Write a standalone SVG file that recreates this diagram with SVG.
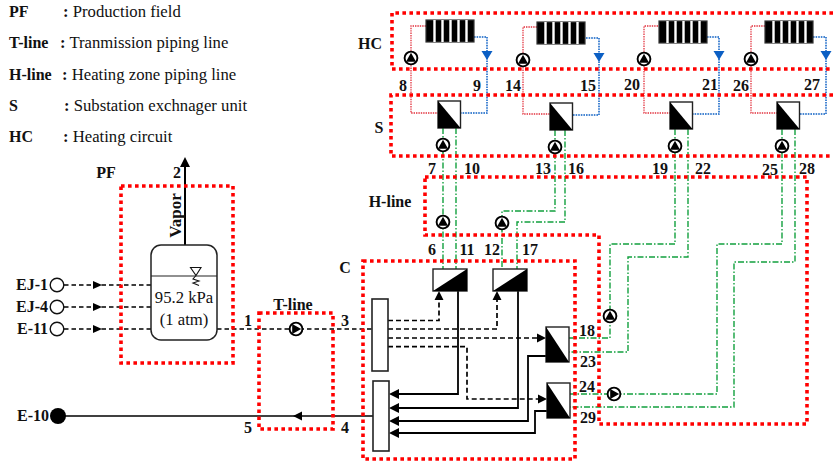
<svg xmlns="http://www.w3.org/2000/svg" width="833" height="462" viewBox="0 0 833 462">
<style>
text{font-family:"Liberation Serif","Times New Roman",serif;fill:#111}
.b{font-weight:700;font-size:16px}
.m{text-anchor:middle}
.r{font-size:16.7px}
.zone{fill:none;stroke:#f00;stroke-width:3.6;stroke-dasharray:3.6 3.4}
.hot{fill:none;stroke:#e2303c;stroke-width:1.3;stroke-dasharray:1.4 1}
.blue{fill:none;stroke:#0b5fc4;stroke-width:1.5;stroke-dasharray:1.6 1}
.green{fill:none;stroke:#12a03e;stroke-width:1.4;stroke-dasharray:6 2 1.5 2}
.dash{fill:none;stroke:#000;stroke-width:1.4;stroke-dasharray:4.5 3}
.dash2{fill:none;stroke:#000;stroke-width:1.7;stroke-dasharray:5 3}
.solid{fill:none;stroke:#000;stroke-width:1.8}
.box{fill:#fff;stroke:#222;stroke-width:1.6}
</style>
<defs>
<g id="pu"><circle r="6.400" fill="#fff" stroke="#000" stroke-width="1.900"/><path d="M0-5.200L5 3.800H-5Z" fill="#000"/></g>
<g id="pr"><circle r="6.400" fill="#fff" stroke="#000" stroke-width="1.900"/><path d="M-3.800-5L5.200 0L-3.800 5Z" fill="#000"/></g>
<g id="rad"><rect width="48" height="22" fill="#000" stroke="#333" stroke-width="1.2"/><path d="M8.500 0V22M16.500 0V22M24.500 0V22M32.500 0V22M40.500 0V22" stroke="#fff" stroke-width="2.400"/></g>
<g id="hxs"><rect width="22.500" height="27" fill="#fff" stroke="#222" stroke-width="1.400"/><path d="M0 0L22.500 27H0Z" fill="#000"/></g>
<g id="hxc"><rect width="34" height="22" fill="#fff" stroke="#222" stroke-width="1.400"/><path d="M0 22L34 0V22Z" fill="#000"/></g>
<g id="hxv"><rect width="23" height="35" fill="#fff" stroke="#222" stroke-width="1.400"/><path d="M0 0L23 35H0Z" fill="#000"/></g>
<path id="ad" d="M-5.500-9H5.500L0 0Z" fill="#0b5fc4"/>
</defs>

<g id="legend">
<text class="b" x="9" y="17">PF</text><text class="r" x="63" y="17"><tspan font-weight="700">:</tspan> Production field</text>
<text class="b" x="9" y="48">T-line</text><text class="r" x="60" y="48"><tspan font-weight="700">:</tspan> Tranmission piping line</text>
<text class="b" x="9" y="80">H-line</text><text class="r" x="62" y="80"><tspan font-weight="700">:</tspan> Heating zone piping line</text>
<text class="b" x="9" y="111">S</text><text class="r" x="64" y="111"><tspan font-weight="700">:</tspan> Substation exchnager unit</text>
<text class="b" x="9" y="142">HC</text><text class="r" x="63" y="142"><tspan font-weight="700">:</tspan> Heating circuit</text>
</g>

<g id="connectors">
<path class="hot" d="M411 58V26H426M411 58V113H438M523 60V27H537M523 60V114H550M644 59V26H658M644 59V113H670M751 59V26H765M751 59V113H777"/>
<path class="blue" d="M474 37H487V113H460M586 38H599V115H572M707 37H719V114H693M813 37H826V114H800"/>
<path class="green" d="M443 128V269M456 128V269M555 130V211H502V269M565 130V222H517V269M675 129V244H610V338H568M688 129V257H628V352H569M782 129V244H717V394H570M795 129V262H734V407H570"/>
<path class="dash" d="M217 329H372M64 285H151M64 307H151M64 329H151"/>
<path class="dash2" d="M388 320.500H439V297M388 329H497V297M388 338H540M388 346.700H467V399H541"/>
<path class="solid" d="M458 291V394H396M518 291V408H396M546 356H528V421H396M547 411H535V433H396"/>
<path fill="none" stroke="#000" stroke-width="1.600" d="M373 416H58"/>
<path fill="none" stroke="#000" stroke-width="2" d="M185 245V165"/>
<path d="M185 157L190 167H180ZM93 281L102 285L93 289ZM93 303L102 307L93 311ZM93 325L102 329L93 333ZM293 416L302 411.500V420.500ZM439 291L443.500 300H434.500ZM497 291L501.500 300H492.500ZM546 338L537 333.500V342.500ZM547 399L538 394.500V403.500ZM389 394L399 389V399ZM389 408L399 403V413ZM389 421L399 416V426ZM389 433L399 428V438Z" fill="#000"/>
<use href="#ad" x="487" y="60"/>
<use href="#ad" x="599" y="62"/>
<use href="#ad" x="719" y="60"/>
<use href="#ad" x="826" y="60"/>
</g>

<g id="zones">
<path class="zone" d="M833 13H392V69H833"/>
<path class="zone" d="M833 95H391V156H833"/>
<path class="zone" d="M425 177H807V424H599V235H425Z"/>
<path class="zone" d="M363 261H575V459H363Z"/>
<path class="zone" d="M121 186H233V363H121Z"/>
<path class="zone" d="M259 313H333V429H259Z"/>
</g>

<g id="rad1"><use href="#rad" x="426" y="20"/></g>
<g id="rad2"><use href="#rad" x="537" y="22"/></g>
<g id="rad3"><use href="#rad" x="659" y="21"/></g>
<g id="rad4"><use href="#rad" x="765" y="21"/></g>
<g id="hx-s1"><use href="#hxs" x="438" y="101"/></g>
<g id="hx-s2"><use href="#hxs" x="550" y="103"/></g>
<g id="hx-s3"><use href="#hxs" x="670" y="102"/></g>
<g id="hx-s4"><use href="#hxs" x="777" y="102"/></g>
<g id="hx-c1"><use href="#hxc" x="433" y="269"/></g>
<g id="hx-c2"><use href="#hxc" x="493" y="269"/></g>
<g id="hx-v1"><use href="#hxv" x="546" y="327"/></g>
<g id="hx-v2"><use href="#hxv" x="547" y="383"/></g>
<g id="pumps">
<use href="#pu" x="411" y="58"/><use href="#pu" x="523" y="60"/><use href="#pu" x="644" y="59"/><use href="#pu" x="751" y="59"/>
<use href="#pu" x="443" y="145"/><use href="#pu" x="555" y="147"/><use href="#pu" x="675" y="146"/><use href="#pu" x="782" y="146"/>
<use href="#pu" x="443" y="222"/><use href="#pu" x="502" y="223"/><use href="#pu" x="610" y="316"/>
<use href="#pr" x="614" y="394"/><use href="#pr" x="296" y="329"/>
</g>
<g id="header-top"><rect class="box" x="372" y="299" width="16" height="72"/></g>
<g id="header-bottom"><rect class="box" x="373" y="381" width="16" height="70"/></g>

<g id="vessel">
<rect x="151" y="245" width="66" height="95" rx="10" fill="#fff" stroke="#222" stroke-width="1.500"/>
<path d="M151 276H217" stroke="#222" stroke-width="1.200"/>
<path d="M190.500 267.500H201L196 275.500ZM196 275.500L193 279L199 281L193 283L199 285.500" fill="none" stroke="#111" stroke-width="1.100"/>
<text class="r m" x="184" y="303">95.2 kPa</text>
<text class="r m" x="184" y="325">(1 atm)</text>
<text class="b m" style="font-size:17px" transform="translate(181 215.500) rotate(-90)">Vapor</text>
</g>
<g id="source-ej1"><circle cx="57" cy="285" r="6.800" fill="#fff" stroke="#111" stroke-width="1.400"/><text class="b" x="16" y="290">EJ-1</text></g>
<g id="source-ej4"><circle cx="57" cy="307" r="6.800" fill="#fff" stroke="#111" stroke-width="1.400"/><text class="b" x="16" y="312">EJ-4</text></g>
<g id="source-e11"><circle cx="57" cy="329" r="6.800" fill="#fff" stroke="#111" stroke-width="1.400"/><text class="b" x="17" y="334">E-11</text></g>
<g id="sink-e10"><circle cx="58" cy="416" r="8" fill="#000"/><text class="b" x="17" y="421">E-10</text></g>

<g id="labels">
<text class="b m" x="370" y="49">HC</text><text class="b m" x="379" y="133">S</text><text class="b m" x="390" y="207">H-line</text>
<text class="b m" x="106" y="178">PF</text><text class="b m" x="345" y="273">C</text><text class="b m" x="293" y="310">T-line</text>
<text class="b m" x="177" y="178">2</text><text class="b m" x="248" y="326">1</text><text class="b m" x="345" y="326">3</text><text class="b m" x="248" y="433">5</text><text class="b m" x="345" y="433">4</text>
<text class="b m" x="403" y="91">8</text><text class="b m" x="477" y="91">9</text><text class="b m" x="513" y="91">14</text><text class="b m" x="588" y="91">15</text><text class="b m" x="632" y="90">20</text><text class="b m" x="710" y="90">21</text><text class="b m" x="741" y="91">26</text><text class="b m" x="812" y="90">27</text>
<text class="b m" x="432" y="174">7</text><text class="b m" x="472" y="174">10</text><text class="b m" x="543" y="174">13</text><text class="b m" x="576" y="174">16</text><text class="b m" x="660" y="174">19</text><text class="b m" x="703" y="174">22</text><text class="b m" x="770" y="175">25</text><text class="b m" x="807" y="174">28</text>
<text class="b m" x="432" y="255">6</text><text class="b m" x="467" y="255">11</text><text class="b m" x="492" y="255">12</text><text class="b m" x="530" y="255">17</text>
<text class="b m" x="587" y="336">18</text><text class="b m" x="588" y="367">23</text><text class="b m" x="587" y="392">24</text><text class="b m" x="588" y="423">29</text>
</g>
</svg>
